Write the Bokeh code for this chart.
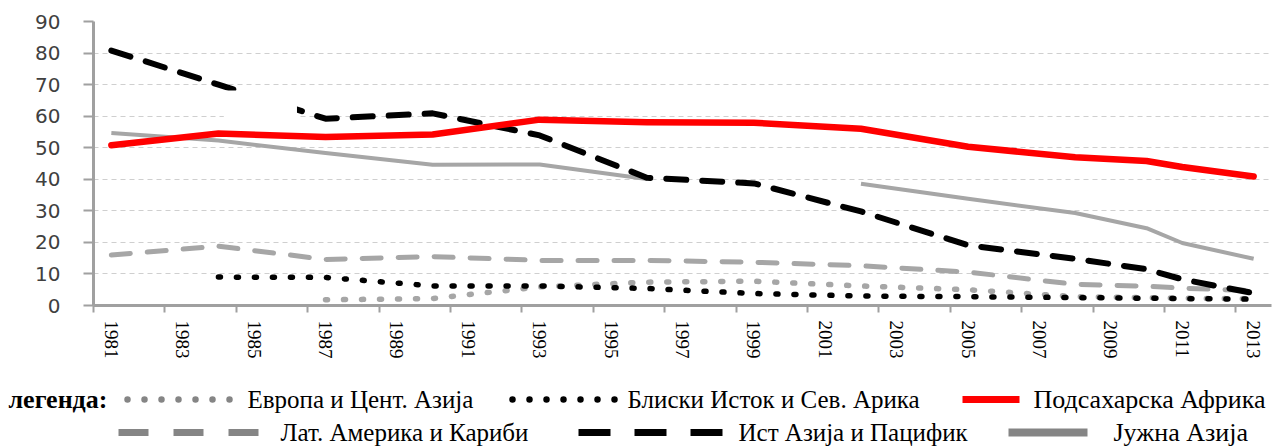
from bokeh.plotting import figure
from bokeh.models import Range1d, FixedTicker, BoxAnnotation
from bokeh.layouts import column
from bokeh.embed import file_html
from bokeh.resources import INLINE
from bokeh.core.properties import value

nan = float("nan")

# ---------------- data ----------------
years = [1981, 1984, 1987, 1990, 1993, 1996, 1999, 2002, 2005, 2008, 2010, 2011, 2013]
europe = [nan, nan, 1.8, 2.2, 5.9, 7.4, 7.7, 6.2, 5.0, 2.8, 2.5, 2.3, 2.1]
mideast = [nan, 9.0, 8.9, 6.2, 6.2, 5.4, 3.8, 3.0, 2.8, 2.5, 2.3, 2.2, 2.0]
ssa = [50.8, 54.5, 53.4, 54.2, 58.9, 58.1, 57.9, 56.0, 50.3, 47.0, 45.8, 43.9, 40.9]
lat_am = [16.0, 18.8, 14.6, 15.5, 14.3, 14.3, 13.7, 12.6, 10.6, 6.7, 6.1, 5.5, 4.7]
east_asia = [80.8, 70.0, 59.2, 60.9, 53.9, 40.5, 38.7, 29.8, 19.1, 14.8, 11.5, 8.3, 3.9]
south_asia = [54.7, 52.3, 48.3, 44.6, 44.7, 40.1, nan, 38.6, 33.8, 29.3, 24.5, 19.8, 14.8]

x_tick_labels = [str(y) for y in range(1981, 2014, 2)]
y_ticks = list(range(0, 91, 10))

legend_title = "легенда:"
legend_labels = [
    "Европа и Цент. Азија",
    "Блиски Исток и Сев. Арика",
    "Подсахарска Африка",
    "Лат. Америка и Кариби",
    "Ист Азија и Пацифик",
    "Јужна Азија",
]

# ---------------- styles ----------------
GRAY = "#A6A6A6"
LEG_GRAY = "#858585"
AXIS_GRAY = "#A0A0A0"

# ---------------- main chart ----------------
W = 1272
p = figure(width=W, height=361, output_backend="svg", toolbar_location=None,
           x_range=Range1d(1980.5, 2013.5), y_range=Range1d(0, 90),
           min_border_left=93, min_border_right=1, min_border_top=21,
           min_border_bottom=56)
p.outline_line_color = None
p.background_fill_color = "white"

p.xgrid.visible = False
p.ygrid.grid_line_color = "#CFCFCF"
p.ygrid.grid_line_dash = "5 4"
p.ygrid.grid_line_width = 1.2
p.ygrid.ticker = FixedTicker(ticks=y_ticks)

# y axis
p.yaxis.ticker = FixedTicker(ticks=y_ticks)
p.yaxis.axis_line_color = AXIS_GRAY
p.yaxis.axis_line_width = 3
p.yaxis.major_tick_line_color = AXIS_GRAY
p.yaxis.major_tick_line_width = 2
p.yaxis.major_tick_out = 10
p.yaxis.major_tick_in = 0
p.yaxis.minor_tick_out = 0
p.yaxis.minor_tick_in = 0
p.yaxis.major_label_standoff = 23
p.yaxis.major_label_text_font = "DejaVu Sans"
p.yaxis.major_label_text_font_size = "20px"
p.yaxis.major_label_text_color = "#404040"

# x axis: labels at odd years, tick marks at category boundaries
p.xaxis.ticker = FixedTicker(ticks=[int(t) for t in x_tick_labels],
                             minor_ticks=[int(t) - 0.5 for t in x_tick_labels])
p.xaxis.axis_line_color = AXIS_GRAY
p.xaxis.axis_line_width = 3
p.xaxis.major_tick_out = 0
p.xaxis.major_tick_in = 0
p.xaxis.minor_tick_out = 7
p.xaxis.minor_tick_in = 0
p.xaxis.minor_tick_line_color = AXIS_GRAY
p.xaxis.minor_tick_line_width = 2
p.xaxis.major_label_orientation = "vertical"
p.xaxis.major_label_standoff = 8
p.xaxis.major_label_text_font = "Liberation Serif"
p.xaxis.major_label_text_font_size = "19px"
p.xaxis.major_label_text_color = "#000000"

# series
p.line(years, south_asia, line_color=GRAY, line_width=4, line_join="round")
p.line(years, lat_am, line_color=GRAY, line_width=5, line_dash="19 17",
       line_cap="round", line_join="round")
p.line(years, europe, line_color=GRAY, line_width=5.5, line_dash="2 16",
       line_cap="round", line_join="round")
p.line(years, mideast, line_color="black", line_width=5.5, line_dash="2 16",
       line_cap="round", line_join="round")
p.line(years, east_asia, line_color="black", line_width=6, line_dash="20 16",
       line_cap="round", line_join="round")
p.line(years, ssa, line_color="#FF0000", line_width=6.5, line_join="round",
       line_cap="round")

# white patch that hides part of the chart in the reference
p.add_layout(BoxAnnotation(left=1984.15, right=1986.2, bottom=58.6, top=68.1,
                           fill_color="white", fill_alpha=1.0,
                           line_color=None, line_alpha=0))

# ---------------- legend ----------------
LH = 87
lg = figure(width=W, height=LH, output_backend="svg", toolbar_location=None,
            x_range=Range1d(0, W), y_range=Range1d(LH, 0),
            min_border=0, min_border_left=0, min_border_right=0,
            min_border_top=0, min_border_bottom=0)
lg.axis.visible = False
lg.grid.visible = False
lg.outline_line_color = None

R1, R2 = 38, 71
FONT = value("Liberation Serif")

lg.text(x=[8], y=[R1], text=[legend_title], text_font=FONT, text_font_size="26px",
        text_font_style="bold", text_baseline="middle", text_align="left",
        text_color="black")

# labels of the first two columns
lg.text(x=[247, 627, 280, 738], y=[R1, R1, R2, R2],
        text=[legend_labels[0], legend_labels[1], legend_labels[3], legend_labels[4]],
        text_font=FONT, text_font_size="25px", text_baseline="middle",
        text_align="left", text_color="black")
# labels of the last column (slightly larger in the reference)
lg.text(x=[1033, 1113], y=[R1, R2],
        text=[legend_labels[2], legend_labels[5]],
        text_font=FONT, text_font_size="26px", text_baseline="middle",
        text_align="left", text_color="black")

# swatches
lg.line([127, 231], [R1, R1], line_color=LEG_GRAY, line_width=6.5,
        line_dash="0 17", line_cap="round")
lg.line([512, 616], [R1, R1], line_color="black", line_width=6.5,
        line_dash="0 17", line_cap="round")
lg.line([962, 1019], [R1, R1], line_color="#FF0000", line_width=7)
lg.line([118, 258], [R2, R2], line_color=LEG_GRAY, line_width=7,
        line_dash="30 25")
lg.line([578, 722], [R2, R2], line_color="black", line_width=7,
        line_dash="32 24")
lg.line([1008, 1087], [R2, R2], line_color=LEG_GRAY, line_width=8)

aligned_ok = True
try:
    p.frame_align = False
    lg.frame_align = False
except AttributeError:
    aligned_ok = False

if aligned_ok:
    root = column(p, lg, spacing=0)
    html = file_html(root, INLINE)
else:
    html = file_html([p, lg], INLINE)

open("out.html", "w").write(html)
